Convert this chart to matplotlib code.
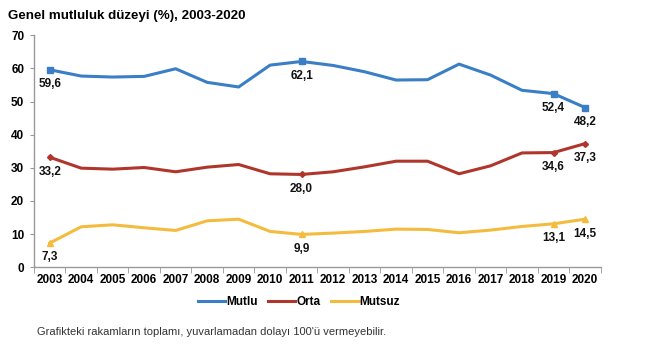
import matplotlib.pyplot as plt

plt.rcParams['font.family'] = ['Liberation Sans', 'DejaVu Sans']

years = [str(y) for y in range(2003, 2021)]
mutlu = [59.6, 57.7, 57.4, 57.6, 59.9, 55.8, 54.4, 61.0, 62.1, 60.9, 59.0, 56.5, 56.6, 61.3, 58.0, 53.4, 52.4, 48.2]
orta = [33.2, 29.9, 29.6, 30.1, 28.8, 30.2, 31.0, 28.2, 28.0, 28.8, 30.3, 32.0, 32.0, 28.2, 30.6, 34.5, 34.6, 37.3]
mutsuz = [7.3, 12.2, 12.8, 11.9, 11.1, 14.0, 14.5, 10.8, 9.9, 10.3, 10.8, 11.5, 11.4, 10.4, 11.2, 12.3, 13.1, 14.5]
labelled = [0, 8, 16, 17]

series = [
    ("Mutlu", mutlu, "#3A7EC6", "s", 5),
    ("Orta", orta, "#B0362C", "D", 3),
    ("Mutsuz", mutsuz, "#F3BC3E", "^", 4),
]

fig = plt.figure(figsize=(6.66, 3.53), dpi=100)
ax = fig.add_axes([0.051, 0.243, 0.851, 0.657])
x = list(range(len(years)))

for name, vals, col, mk, ms in series:
    ax.plot(x, vals, color=col, lw=2.2, label=name, solid_joinstyle='round')
    ax.plot([x[i] for i in labelled], [vals[i] for i in labelled], ls='none',
            marker=mk, ms=ms, color=col)
    for i in labelled:
        ax.annotate(f"{vals[i]:.1f}".replace('.', ','), (x[i], vals[i]),
                    xytext=(0, -6), textcoords='offset points', ha='center', va='top',
                    fontsize=8.5, fontweight='bold', color='#111111')

ax.set_xlim(-0.5, len(years) - 0.5)
ax.set_ylim(0, 70)
ax.set_yticks(range(0, 71, 10))
ax.set_xticks(x)
ax.set_xticklabels(years)
ax.set_xticks([i - 0.5 for i in range(len(years) + 1)], minor=True)
ax.tick_params(axis='x', which='major', length=0, pad=5)
ax.tick_params(axis='x', which='minor', length=4, color='#999999')
ax.tick_params(axis='y', length=3, color='#999999', pad=4)
for lab in ax.get_xticklabels() + ax.get_yticklabels():
    lab.set_fontsize(8.5)
    lab.set_fontweight('bold')
for s in ['top', 'right']:
    ax.spines[s].set_visible(False)
for s in ['left', 'bottom']:
    ax.spines[s].set_color('#999999')
    ax.spines[s].set_linewidth(1)

fig.text(0.012, 0.955, "Genel mutluluk düzeyi (%), 2003-2020", fontsize=9.6,
         fontweight='bold', ha='left', va='center')

leg = fig.legend(loc='center', bbox_to_anchor=(0.449, 0.145), ncol=3, frameon=False,
                 handlelength=2.3, handletextpad=0.1, columnspacing=0.9,
                 prop={'weight': 'bold', 'size': 8.5})

fig.text(0.055, 0.06, "Grafikteki rakamların toplamı, yuvarlamadan dolayı 100'ü vermeyebilir.",
         fontsize=8, color='#333333', ha='left', va='center')

fig.savefig("out.png", dpi=100, facecolor='white')
